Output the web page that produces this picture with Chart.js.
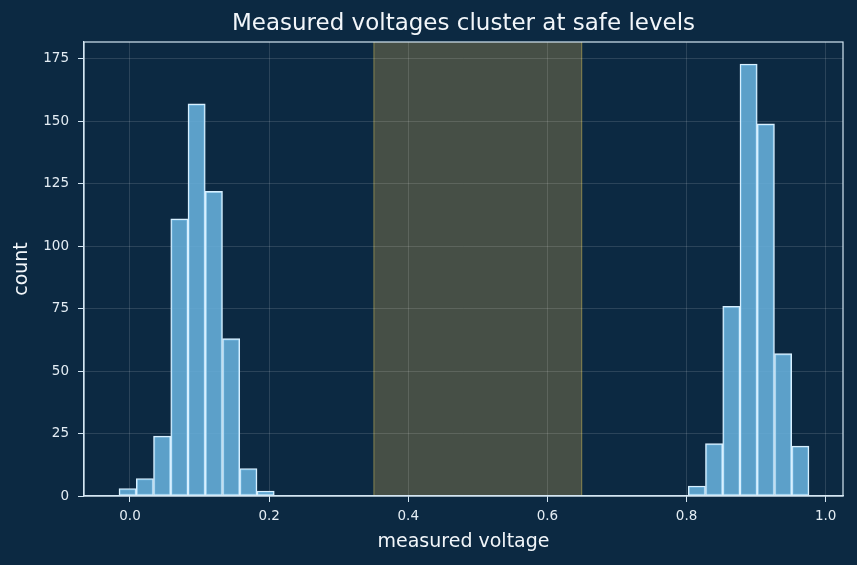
<!DOCTYPE html>
<html lang="en">
  <head>
    <meta charset="UTF-8" />
    <title>Measured voltages</title>
    <script src="https://cdn.jsdelivr.net/npm/chart.js"></script>
    <style>
      html, body { margin: 0; padding: 0; background: #0c2942; }
      #wrap { width: 857px; height: 565px; }
    </style>
  </head>
  <body>
    <div id="wrap"><canvas id="hist"></canvas></div>

    <script>
      // histogram bins (centres) and counts
      const binCenters = [-0.0034, 0.0214, 0.0462, 0.0710, 0.0958, 0.1206, 0.1454, 0.1702, 0.1950,
                          0.8148, 0.8396, 0.8644, 0.8892, 0.9140, 0.9388, 0.9636];
      const counts = [3, 7, 24, 111, 157, 122, 63, 11, 2,
                      4, 21, 76, 173, 149, 57, 20];
      const safeBand = [0.35, 0.65];
      const xTicks = [0, 0.2, 0.4, 0.6, 0.8, 1.0];
      const yTicks = [0, 25, 50, 75, 100, 125, 150, 175];
      const titleText = "Measured voltages cluster at safe levels";

      const bg = "#0c2942";
      const fg = "#d4e6f2";

      // background + shaded band (drawn before grid so the grid sits on top), frame and title after
      const backdrop = {
        id: "backdrop",
        beforeDraw(chart) {
          const { ctx, chartArea, scales } = chart;
          ctx.save();
          ctx.fillStyle = bg;
          ctx.fillRect(0, 0, chart.width, chart.height);
          const x0 = scales.x.getPixelForValue(safeBand[0]);
          const x1 = scales.x.getPixelForValue(safeBand[1]);
          ctx.fillStyle = "rgba(205, 170, 80, 0.30)";
          ctx.fillRect(x0, chartArea.top, x1 - x0, chartArea.bottom - chartArea.top);
          ctx.strokeStyle = "rgba(205, 190, 90, 0.45)";
          ctx.lineWidth = 1;
          ctx.beginPath();
          ctx.moveTo(x0 + 0.5, chartArea.top);
          ctx.lineTo(x0 + 0.5, chartArea.bottom);
          ctx.moveTo(x1 - 0.5, chartArea.top);
          ctx.lineTo(x1 - 0.5, chartArea.bottom);
          ctx.stroke();
          ctx.restore();
        },
        afterDraw(chart) {
          const { ctx, chartArea } = chart;
          ctx.save();
          ctx.strokeStyle = fg;
          ctx.lineWidth = 1.2;
          ctx.strokeRect(chartArea.left, chartArea.top,
                         chartArea.right - chartArea.left, chartArea.bottom - chartArea.top);
          ctx.fillStyle = "#f2f6fa";
          ctx.font = "23px 'DejaVu Sans'";
          ctx.textAlign = "center";
          ctx.textBaseline = "middle";
          ctx.fillText(titleText, (chartArea.left + chartArea.right) / 2, 24);
          ctx.restore();
        },
      };

      new Chart(document.getElementById("hist"), {
        type: "bar",
        data: {
          datasets: [
            {
              data: binCenters.map((x, i) => ({ x: x, y: counts[i] })),
              backgroundColor: "rgba(104, 176, 220, 0.88)",
              borderColor: "#d8f0ff",
              borderWidth: 1.4,
              borderSkipped: false,
              barPercentage: 1,
              categoryPercentage: 1,
            },
          ],
        },
        options: {
          responsive: true,
          maintainAspectRatio: false,
          animation: false,
          devicePixelRatio: 1,
          layout: { padding: { left: 0, right: 14, top: 42, bottom: 0 } },
          plugins: {
            legend: { display: false },
            tooltip: { enabled: false },
          },
          scales: {
            x: {
              type: "linear",
              min: -0.0661,
              max: 1.0249,
              offset: false,
              grid: { offset: false, color: "rgba(255,255,255,0.13)", tickColor: fg, tickLength: 6, drawTicks: true },
              border: { color: fg, width: 1.2 },
              afterBuildTicks: (s) => { s.ticks = xTicks.map((v) => ({ value: v })); },
              afterFit: (s) => { s.height = 69; },
              ticks: {
                color: "#e4edf4",
                font: { family: "DejaVu Sans", size: 13.5 },
                padding: 6,
                maxRotation: 0,
                callback: (v) => v.toFixed(1),
              },
              title: {
                display: true,
                text: "measured voltage",
                color: "#f2f6fa",
                font: { family: "DejaVu Sans", size: 19 },
                padding: { top: 2, bottom: 12 },
              },
            },
            y: {
              min: 0,
              max: 181.8,
              grid: { color: "rgba(255,255,255,0.13)", tickColor: fg, tickLength: 6 },
              border: { color: fg, width: 1.2 },
              afterBuildTicks: (s) => { s.ticks = yTicks.map((v) => ({ value: v })); },
              afterFit: (s) => { s.width = 84; },
              ticks: {
                color: "#e4edf4",
                font: { family: "DejaVu Sans", size: 13.5 },
                padding: 9,
              },
              title: {
                display: true,
                text: "count",
                color: "#f2f6fa",
                font: { family: "DejaVu Sans", size: 19 },
                padding: { top: 11, bottom: 4 },
              },
            },
          },
        },
        plugins: [backdrop],
      });
    </script>
  </body>
</html>
